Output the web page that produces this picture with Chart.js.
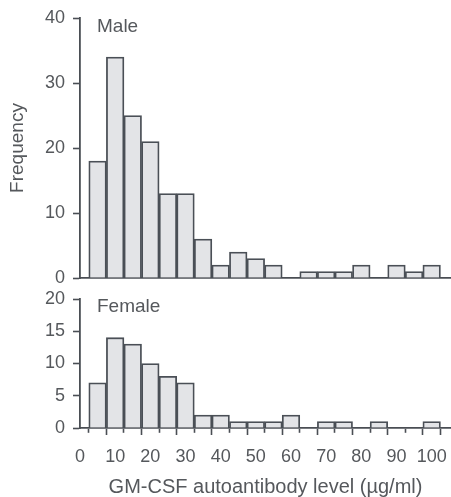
<!DOCTYPE html>
<html>
<head>
<meta charset="utf-8">
<script src="https://cdn.jsdelivr.net/npm/chart.js@4/dist/chart.umd.min.js"></script>
<style>
  html, body { margin: 0; padding: 0; background: #ffffff; }
  #wrap { position: relative; width: 451px; height: 497px; overflow: hidden; }
  #c1 { position: absolute; left: 0; top: 0; }
  #c2 { position: absolute; left: 0; top: 285px; }
</style>
</head>
<body>
<div id="wrap">
  <canvas id="c1" width="451" height="285" style="width:451px;height:285px"></canvas>
  <canvas id="c2" width="451" height="212" style="width:451px;height:212px"></canvas>
</div>
<script>
// ---- data ----
const binCenters = [5, 10, 15, 20, 25, 30, 35, 40, 45, 50, 55, 60, 65, 70, 75, 80, 85, 90, 95, 100];
const maleCounts = [18, 34, 25, 21, 13, 13, 6, 2, 4, 3, 2, 0, 1, 1, 1, 2, 0, 2, 1, 2];
const femaleCounts = [7, 14, 13, 10, 8, 7, 2, 2, 1, 1, 1, 2, 0, 1, 1, 0, 1, 0, 0, 1];
const xTickValues = [0, 5, 10, 15, 20, 25, 30, 35, 40, 45, 50, 55, 60, 65, 70, 75, 80, 85, 90, 95, 100];
const maleYTicks = [0, 10, 20, 30, 40];
const femaleYTicks = [0, 5, 10, 15, 20];
const panelMale = 'Male';
const panelFemale = 'Female';
const xTitle = 'GM-CSF autoantibody level (\u00b5g/ml)';
const yTitle = 'Frequency';

// ---- styles ----
const FONT = '"Liberation Sans", Arial, Helvetica, sans-serif';
const TEXT = '#55585c';
const AXIS = '#4a4e54';
const BAR_FILL = '#e3e4e7';
const BAR_EDGE = '#4a4f56';

function toPoints(vals) {
  return binCenters.map((x, i) => ({ x: x, y: vals[i] }));
}

const panelLabel = {
  id: 'panelLabel',
  afterDraw(chart, args, opts) {
    const ctx = chart.ctx;
    ctx.save();
    ctx.font = '19px ' + FONT;
    ctx.fillStyle = TEXT;
    ctx.textAlign = 'left';
    ctx.textBaseline = 'middle';
    ctx.fillText(opts.text, chart.chartArea.left + 17, opts.y);
    ctx.restore();
  }
};

function noPad(s) {
  s.paddingTop = 0; s.paddingBottom = 0; s.paddingLeft = 0; s.paddingRight = 0;
}

function yScale(max, ticks, showTitle) {
  return {
    type: 'linear',
    min: 0,
    max: max,
    afterBuildTicks: s => { s.ticks = ticks.map(v => ({ value: v })); },
    afterFit: s => { s.width = 80; noPad(s); },
    grid: { drawOnChartArea: false, drawTicks: true, tickLength: 7, color: AXIS, tickWidth: 1.6 },
    border: { display: true, color: AXIS, width: 1.8 },
    ticks: { color: TEXT, font: { family: FONT, size: 18 }, padding: 8 },
    title: {
      display: showTitle, text: yTitle, color: TEXT,
      font: { family: FONT, size: 19 }, padding: { top: 6, bottom: 4 }
    }
  };
}

function barDataset(vals) {
  return {
    data: toPoints(vals),
    backgroundColor: BAR_FILL,
    borderColor: BAR_EDGE,
    borderWidth: 1.8,
    borderSkipped: 'start',
    barPercentage: 1.0,
    categoryPercentage: 1.0
  };
}

// ---- Male panel ----
new Chart(document.getElementById('c1'), {
  type: 'bar',
  data: { datasets: [barDataset(maleCounts)] },
  options: {
    responsive: false,
    animation: false,
    layout: { padding: { top: 18, right: 0, bottom: 0, left: 0 } },
    plugins: { legend: { display: false }, tooltip: { enabled: false }, panelLabel: { text: panelMale, y: 27 } },
    scales: {
      x: {
        type: 'linear', min: 0, max: 105.5, offset: false,
        afterFit: s => { s.height = 7; noPad(s); },
        grid: { display: true, drawOnChartArea: false, drawTicks: false },
        border: { display: true, color: AXIS, width: 1.8 },
        ticks: { display: false }
      },
      y: yScale(40, maleYTicks, true)
    }
  },
  plugins: [panelLabel]
});

// ---- Female panel ----
new Chart(document.getElementById('c2'), {
  type: 'bar',
  data: { datasets: [barDataset(femaleCounts)] },
  options: {
    responsive: false,
    animation: false,
    layout: { padding: { top: 14, right: 0, bottom: 0, left: 0 } },
    plugins: { legend: { display: false }, tooltip: { enabled: false }, panelLabel: { text: panelFemale, y: 22 } },
    scales: {
      x: {
        type: 'linear', min: 0, max: 105.5, offset: false,
        afterBuildTicks: s => { s.ticks = xTickValues.map(v => ({ value: v })); },
        afterFit: s => { s.height = 69; noPad(s); },
        grid: {
          display: true, drawOnChartArea: false, drawTicks: true, tickLength: 7,
          color: AXIS, tickWidth: 1.6,
          tickBorderDash: c => (c.tick && c.tick.value % 10 !== 0) ? [4, 20] : []
        },
        border: { display: true, color: AXIS, width: 1.8 },
        ticks: {
          color: TEXT, font: { family: FONT, size: 18 }, padding: 11, maxRotation: 0, autoSkip: false,
          callback: v => (v % 10 === 0 ? String(v) : '')
        },
        title: {
          display: true, text: xTitle, color: TEXT,
          font: { family: FONT, size: 20, lineHeight: 1 }, padding: { top: 0, bottom: 0 }
        }
      },
      y: yScale(20, femaleYTicks, false)
    }
  },
  plugins: [panelLabel]
});
</script>
</body>
</html>
